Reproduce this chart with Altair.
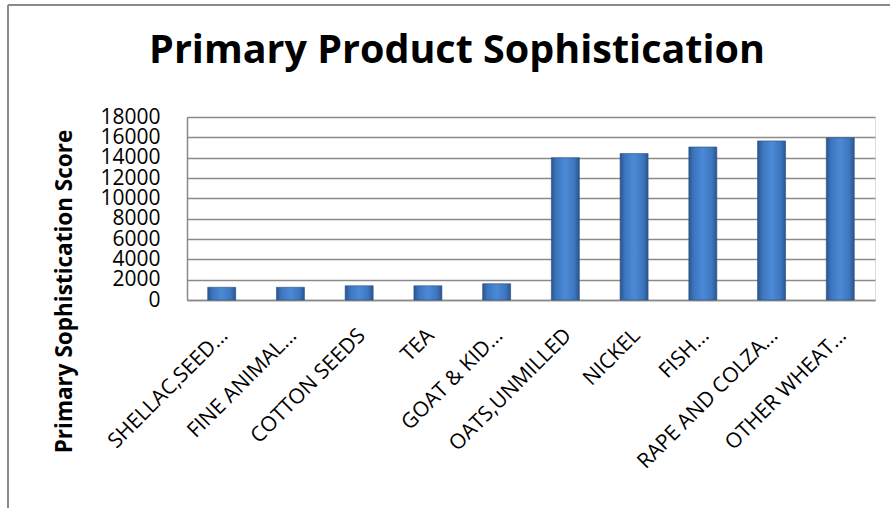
import altair as alt
import pandas as pd

categories = ["SHELLAC,SEED...", "FINE ANIMAL...", "COTTON SEEDS", "TEA", "GOAT & KID...",
              "OATS,UNMILLED", "NICKEL", "FISH...", "RAPE AND COLZA...", "OTHER WHEAT..."]
values = [1250, 1250, 1400, 1400, 1600, 14000, 14400, 15050, 15650, 15950]
y_ticks = [0, 2000, 4000, 6000, 8000, 10000, 12000, 14000, 16000, 18000]

df = pd.DataFrame({"product": categories, "score": values})

FONT = "Open Sans, Carlito, sans-serif"
PLOT_W, PLOT_H = 688, 183
LEFT, TOP = 187, 117

grad = alt.LinearGradient(
    gradient="linear", x1=0, x2=1, y1=0, y2=0,
    stops=[
        alt.GradientStop(color="#2a5590", offset=0),
        alt.GradientStop(color="#3d76bf", offset=0.18),
        alt.GradientStop(color="#4c8ad6", offset=0.5),
        alt.GradientStop(color="#3d76bf", offset=0.82),
        alt.GradientStop(color="#2a5590", offset=1),
    ],
)

bars = alt.Chart(df).mark_bar(color=grad, size=28, stroke="#2a4f80", strokeWidth=0.6).encode(
    x=alt.X("product:N", sort=categories,
            scale=alt.Scale(paddingInner=0.59, paddingOuter=0.3),
            axis=alt.Axis(title=None, labelAngle=-45, labelFont=FONT, labelFontSize=21,
                          labelColor="#000000", labelAlign="right", labelBaseline="middle",
                          labelPadding=32, labelOffset=3, ticks=False,
                          domainColor="#8a8a8a", domainWidth=1.5, labelOverlap=False,
                          labelLimit=300)),
    y=alt.Y("score:Q", scale=alt.Scale(domain=[0, 18000], nice=False),
            axis=alt.Axis(values=y_ticks, format="d", title="Primary Sophistication Score",
                          titleFont=FONT, titleFontSize=22.5, titleFontWeight="bold",
                          titleColor="#000000", titleAngle=270, titleX=-123, titleY=174,
                          titleAlign="center", titleBaseline="middle",
                          labelFont=FONT, labelFontSize=21, labelColor="#000000",
                          labelPadding=27, ticks=False, gridColor="#8a8a8a",
                          gridWidth=1.5, domainColor="#8a8a8a", domainWidth=1.5,
                          labelOverlap=False)),
)

border = pd.DataFrame({"k": [0]})
top_line = alt.Chart(border).mark_rule(color="#8a8a8a", strokeWidth=2).encode(
    x=alt.value(8 - LEFT), x2=alt.value(890 - LEFT), y=alt.value(5 - TOP))
left_line = alt.Chart(border).mark_rule(color="#8a8a8a", strokeWidth=2).encode(
    x=alt.value(8 - LEFT), y=alt.value(5 - TOP), y2=alt.value(510 - TOP))

chart = alt.layer(bars, top_line, left_line).properties(
    width=PLOT_W, height=PLOT_H,
    title=alt.TitleParams("Primary Product Sophistication", font=FONT,
                          fontSize=39.5, fontWeight="bold", color="#000000", anchor="middle",
                          baseline="alphabetic", dx=-74, offset=-98),
    autosize=alt.AutoSizeParams(type="none"),
    padding={"left": LEFT, "top": TOP, "right": 890 - LEFT - PLOT_W, "bottom": 508 - TOP - PLOT_H},
).configure_view(stroke=None).configure(background="white")

chart.save("out.html", embed_options={"renderer": "svg", "actions": False})
